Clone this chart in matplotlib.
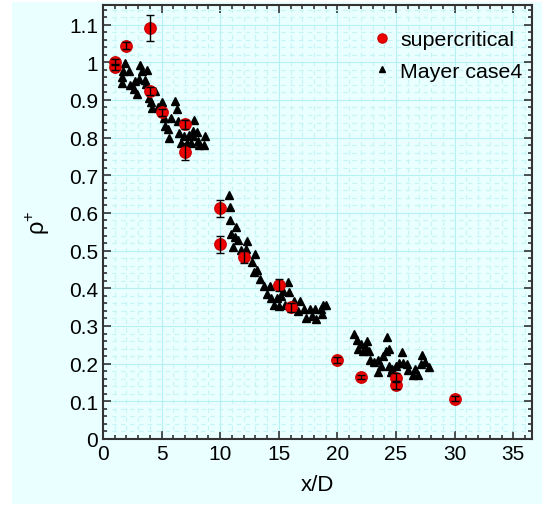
import matplotlib.pyplot as plt
from matplotlib.patches import Rectangle
from matplotlib.ticker import MultipleLocator

# supercritical (with error bars)
sc_x = [1, 1, 2, 4, 4, 5, 7, 7, 10, 10, 12, 15, 16, 20, 22, 25, 25, 30]
sc_y = [1.0, 0.988, 1.044, 1.091, 0.924, 0.867, 0.836, 0.763, 0.612, 0.517,
        0.484, 0.409, 0.350, 0.209, 0.165, 0.163, 0.143, 0.107]
sc_err = [0.008, 0.008, 0.01, 0.035, 0.01, 0.01, 0.012, 0.022, 0.022, 0.022,
          0.016, 0.016, 0.012, 0.008, 0.006, 0.012, 0.01, 0.006]

# Mayer case4
my_x = [1.88, 1.74, 2.2, 1.6, 1.65, 3.14, 3.35, 3.74, 3.08, 3.55, 2.71, 2.31,
        2.62, 2.89, 3.65, 4.45, 3.94, 4.08, 4.14, 5.0, 4.71, 6.16, 6.3, 5.22,
        5.79, 6.36, 5.33, 5.51, 5.62, 7.79, 6.5, 6.93, 7.3, 7.65, 7.99, 7.7,
        8.67, 6.65, 7.13, 7.5, 8.13, 8.22, 8.65,
        10.79, 10.85, 10.87, 11.36, 10.93, 11.22, 11.5, 12.27, 11.13, 11.79,
        12.16, 12.93, 12.73, 13.15, 12.84, 13.41, 13.7, 14.21, 13.98, 14.3,
        14.84, 15.15, 15.35, 15.78, 15.87, 15.5, 14.55, 14.98, 16.27, 16.84,
        16.64, 17.15, 17.64, 18.12, 18.63, 18.78, 19.06, 17.35, 17.86, 18.15,
        18.72,
        21.43, 21.63, 21.98, 22.54, 21.78, 22.15, 22.43, 22.72, 22.77, 23.12,
        23.43, 23.69, 23.48, 23.86, 24.14, 24.42, 24.2, 24.4, 24.63, 24.77,
        24.55, 25.0, 25.28, 25.63, 25.97, 25.48, 26.05, 26.43, 26.86, 26.65,
        27.14, 27.2, 27.51, 27.85]
my_y = [0.997, 0.977, 0.976, 0.961, 0.946, 0.992, 0.976, 0.980, 0.955, 0.952,
        0.949, 0.939, 0.930, 0.917, 0.941, 0.925, 0.904, 0.894, 0.878, 0.894,
        0.880, 0.897, 0.877, 0.853, 0.851, 0.845, 0.832, 0.823, 0.799, 0.847,
        0.812, 0.805, 0.807, 0.818, 0.814, 0.805, 0.805, 0.787, 0.785, 0.787,
        0.790, 0.781, 0.781,
        0.648, 0.615, 0.581, 0.564, 0.544, 0.536, 0.528, 0.526, 0.510, 0.501,
        0.504, 0.490, 0.470, 0.449, 0.442, 0.424, 0.406, 0.406, 0.384, 0.375,
        0.375, 0.380, 0.393, 0.417, 0.390, 0.357, 0.357, 0.353, 0.366, 0.366,
        0.340, 0.346, 0.344, 0.346, 0.344, 0.355, 0.357, 0.320, 0.326, 0.319,
        0.333,
        0.280, 0.262, 0.251, 0.260, 0.240, 0.233, 0.241, 0.233, 0.211, 0.205,
        0.209, 0.194, 0.178, 0.220, 0.233, 0.238, 0.271, 0.195, 0.185, 0.178,
        0.178, 0.195, 0.203, 0.201, 0.200, 0.231, 0.182, 0.169, 0.169, 0.187,
        0.198, 0.222, 0.204, 0.192]

plt.rcParams['font.family'] = ['Liberation Sans', 'DejaVu Sans']
plt.rcParams['mathtext.fontset'] = 'custom'
plt.rcParams['mathtext.rm'] = 'Liberation Sans'
bg = '#eaffff'

fig = plt.figure(figsize=(5.42, 5.06), dpi=100, facecolor='white')
fig.patches.append(Rectangle((12 / 542, 1 / 506), 530 / 542, 502 / 506,
                             transform=fig.transFigure, facecolor=bg,
                             edgecolor='none', zorder=-10))
ax = fig.add_axes([103 / 542, 1 - 440 / 506, 429 / 542, 434 / 506])
ax.set_facecolor(bg)

ax.errorbar(sc_x, sc_y, yerr=sc_err, fmt='none', ecolor='black', elinewidth=1,
            capsize=3, zorder=4)
ax.plot(my_x, my_y, '^', color='black', markersize=5.2, label='Mayer case4', zorder=3)
ax.plot(sc_x, sc_y, 'o', color='#ee0000', markeredgecolor='#cc0000',
        markersize=8.2, label='supercritical', zorder=3)

ax.set_xlim(0, 36.6)
ax.set_ylim(0, 1.152)
ax.xaxis.set_major_locator(MultipleLocator(5))
ax.xaxis.set_minor_locator(MultipleLocator(1))
ax.yaxis.set_major_locator(MultipleLocator(0.1))
ax.yaxis.set_minor_locator(MultipleLocator(0.02))
ax.set_yticks([0, 0.1, 0.2, 0.3, 0.4, 0.5, 0.6, 0.7, 0.8, 0.9, 1.0, 1.1])
ax.set_yticklabels(['0', '0.1', '0.2', '0.3', '0.4', '0.5', '0.6', '0.7', '0.8',
                    '0.9', '1', '1.1'])

ax.grid(True, which='major', color='#b4f0f4', linewidth=0.8, zorder=0)
ax.grid(True, which='minor', color='#c4f4f6', linewidth=0.8, linestyle=(0, (4, 4)), zorder=0)
ax.set_axisbelow(True)

ax.tick_params(which='both', direction='in', top=True, right=True, labelsize=15,
               width=1.2, color='#333333')
ax.tick_params(which='major', length=6)
ax.tick_params(which='minor', length=3)
for s in ax.spines.values():
    s.set_linewidth(1.5)
    s.set_color('#333333')

ax.set_xlabel('x/D', fontsize=16, labelpad=8)
ax.set_ylabel(r'ρ$^{\mathrm{+}}$', fontsize=17, labelpad=12)

h, l = ax.get_legend_handles_labels()
ax.legend(h[::-1], l[::-1], loc='upper right', bbox_to_anchor=(0.998, 0.962),
          frameon=False, fontsize=15.4, handletextpad=0.3, handlelength=1.1,
          borderaxespad=0.0, labelspacing=0.6, markerscale=0.8)

fig.savefig('out.png', dpi=100, facecolor='white')
